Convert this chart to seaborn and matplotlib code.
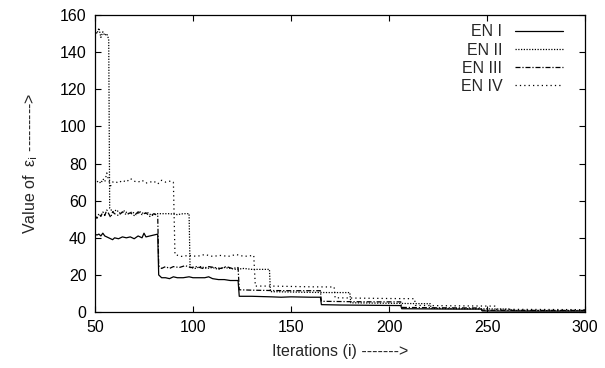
import numpy as np
import pandas as pd
import seaborn as sns
import matplotlib
matplotlib.use("Agg")
import matplotlib.pyplot as plt

# iterations / error values
en1_x = [50, 51, 52, 53, 54, 55, 56, 57, 58, 59, 60, 62, 64, 66, 68, 70, 72, 74, 75, 76, 78, 80, 82,
         82.5, 84, 86, 88, 90, 92, 95, 98, 100, 103, 106, 108, 110, 113, 116, 119, 123,
         123.6, 130, 140, 145, 150, 160, 165, 165.5, 175, 185, 195, 206, 206.5, 220, 235, 247, 247.5, 270, 300]
en1_y = [42, 41.5, 42, 41, 42.5, 41, 40.5, 40, 39.5, 39, 40, 39.5, 40.5, 40, 40.5, 39.5, 41, 40, 42.5, 40.5, 41, 41.5, 42,
         20, 18.5, 18.5, 18, 19, 18.5, 18.5, 19, 18.5, 18.5, 18.5, 19, 18, 17.5, 17.5, 17, 17,
         8.5, 8.5, 8.2, 8, 8.2, 8, 8, 4, 3.8, 3.7, 3.6, 3.5, 1.8, 1.7, 1.6, 1.6, 0.6, 0.5, 0.5]

en2_x = [50, 51, 52, 53, 54, 55, 56, 57,
         57.5, 59, 61, 63, 65, 67, 69, 71, 73, 75, 77, 79, 81, 84, 88, 92, 95, 98,
         98.5, 101, 104, 107, 110, 113, 116, 119, 122, 126, 130, 134, 139,
         139.5, 150, 160, 170, 180, 180.5, 195, 210, 221, 221.5, 240, 262, 262.5, 280, 300]
en2_y = [152, 150, 153, 148, 151, 149, 150, 147,
         56, 54, 55, 53, 54.5, 53, 54, 52.5, 54, 53, 53.5, 52, 53, 53, 53, 52.5, 53, 53,
         24, 23.5, 24.5, 23.5, 24, 23, 24, 23.5, 23, 23.5, 23, 23, 23,
         11, 10.8, 10.6, 10.5, 10.5, 5, 4.8, 4.6, 4.5, 2, 1.8, 1.6, 0.9, 0.8, 0.8]

en3_x = [50, 51, 52, 53, 54, 55, 56, 57, 58, 59, 60, 62, 64, 66, 68, 70, 72, 74, 76, 78, 80, 82,
         82.5, 84, 86, 88, 90, 93, 96, 99, 102, 105, 108, 111, 114, 117, 120, 123,
         123.6, 130, 140, 150, 160, 165, 165.5, 180, 195, 206, 206.5, 225, 247, 247.5, 270, 300]
en3_y = [52, 50.5, 53, 51.5, 54, 52, 55, 53, 51, 54, 53, 52, 54, 52.5, 53.5, 52, 54, 52.5, 53.5, 51.5, 53, 52,
         25, 23.5, 24.5, 23.5, 24.5, 24, 25, 24, 24.5, 23.5, 24.5, 24, 23.5, 24.5, 23.5, 24,
         12, 11.8, 11.6, 11.5, 11.5, 11.5, 5.8, 5.6, 5.5, 5.5, 2.5, 2.3, 2.2, 1, 0.9, 0.9]

en4_x = [50, 51, 52, 53, 54, 55, 56, 57, 58, 59, 60, 62, 64, 66, 68, 70, 72, 74, 76, 78, 80, 82, 84, 86, 88, 90,
         90.8, 94, 98, 102, 106, 110, 114, 118, 122, 126, 131,
         131.8, 140, 150, 160, 172, 172.5, 185, 200, 213, 213.5, 230, 254, 254.5, 275, 300]
en4_y = [72, 70, 71, 69, 72, 70, 75, 71, 68, 70, 70.5, 69.5, 71, 70, 72, 70.5, 70, 71, 69.5, 70, 70.5, 69, 71, 70, 70.5, 70,
         31, 30, 30.5, 30, 31, 30, 30.5, 30, 31, 30, 30.5,
         14, 14, 13.8, 13.6, 13.5, 7.7, 7.5, 7.3, 7.2, 3.6, 3.4, 3.2, 1.5, 1.4, 1.3]

labels = ["EN I", "EN II", "EN III", "EN IV"]
series_x = [en1_x, en2_x, en3_x, en4_x]
series_y = [en1_y, en2_y, en3_y, en4_y]
dash_styles = ["-", (0, (1, 1.2)), (0, (4, 1.5, 1, 1.5)), (0, (1, 2.5))]
x_ticks = [50, 100, 150, 200, 250, 300]
y_ticks = [0, 20, 40, 60, 80, 100, 120, 140, 160]


def main():
    sns.set_style("ticks")
    plt.rcParams["font.family"] = ["Liberation Sans", "DejaVu Sans"]
    plt.rcParams["mathtext.fontset"] = "dejavusans"

    fig = plt.figure(figsize=(6.05, 3.68), dpi=100, facecolor="white")
    ax = fig.add_axes([0.157, 0.152, 0.967 - 0.157, 0.959 - 0.152])

    for lab, xs, ys, ls in zip(labels, series_x, series_y, dash_styles):
        df = pd.DataFrame({"iter": xs, "eps": ys})
        sns.lineplot(data=df, x="iter", y="eps", ax=ax, color="black",
                     linewidth=0.9, linestyle=ls, label=lab, sort=False,
                     estimator=None)

    ax.set_xlim(50, 300)
    ax.set_ylim(0, 160)
    ax.set_xticks(x_ticks)
    ax.set_yticks(y_ticks)
    ax.tick_params(direction="in", top=True, right=True, length=4,
                   width=0.8, labelsize=11.5, colors="black", pad=6)
    for sp in ax.spines.values():
        sp.set_visible(True)
        sp.set_linewidth(0.9)
        sp.set_color("black")

    ax.set_xlabel("Iterations (i) ------->", fontsize=11.5, labelpad=6)
    ax.set_ylabel(r"Value of  ε$_{\rm i}$ --------->", fontsize=11.5, labelpad=14)

    ax.legend(loc="upper right", bbox_to_anchor=(0.968, 0.99), frameon=False,
              markerfirst=False, fontsize=11.5, handlelength=3.0,
              labelspacing=0.2, borderaxespad=0, handletextpad=0.8)

    fig.savefig("out.png", dpi=100, facecolor="white")
    plt.close(fig)


if __name__ == "__main__":
    main()
